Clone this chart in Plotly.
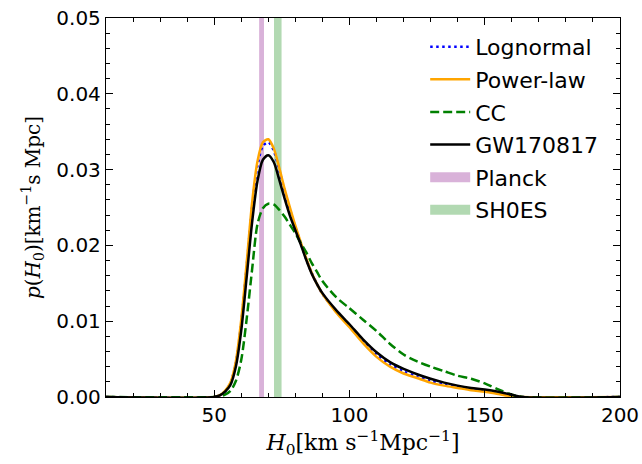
import plotly.graph_objects as go

# ---- data ----
h0 = [10, 50, 52, 54, 56, 58, 60, 62, 64, 66, 68, 70, 72, 74, 76, 78, 80, 82, 84, 86, 88, 90, 95,
      100, 105, 110, 115, 120, 125, 130, 135, 140, 145, 150, 155, 160, 164, 200]

lognormal = [0, 0, 0.0002, 0.0007, 0.0018, 0.0045, 0.0098, 0.0172, 0.0250, 0.0305, 0.0331, 0.0336,
             0.0325, 0.0300, 0.0272, 0.0247, 0.0224, 0.0203, 0.0182, 0.0164, 0.0149, 0.0136, 0.0113,
             0.0094, 0.0073, 0.0056, 0.0043, 0.0034, 0.0027, 0.0021, 0.0017, 0.0013, 0.0011,
             0.0008, 0.0005, 0.0002, 0, 0]

power_law = [0, 0, 0.0002, 0.0008, 0.0019, 0.0047, 0.0102, 0.0177, 0.0256, 0.0311, 0.0336, 0.0340,
             0.0328, 0.0303, 0.0275, 0.0250, 0.0226, 0.0204, 0.0183, 0.0164, 0.0149, 0.0136, 0.0112,
             0.0092, 0.0071, 0.0053, 0.0040, 0.0031, 0.0025, 0.0019, 0.0015, 0.0012, 0.0009,
             0.0007, 0.0004, 0.0001, 0, 0]

cc = [0, 0, 0.0001, 0.0003, 0.0008, 0.0021, 0.0049, 0.0103, 0.0168, 0.0228, 0.0249, 0.0255,
      0.0254, 0.0247, 0.0238, 0.0227, 0.0216, 0.0203, 0.0191, 0.0177, 0.0165, 0.0153, 0.0132,
      0.0117, 0.0102, 0.0087, 0.0070, 0.0056, 0.0047, 0.0040, 0.0034, 0.0028, 0.0024,
      0.0018, 0.0010, 0.0003, 0, 0]

gw170817 = [0, 0, 0.0002, 0.0007, 0.0016, 0.0040, 0.0088, 0.0158, 0.0230, 0.0285, 0.0313, 0.0319,
            0.0310, 0.0287, 0.0262, 0.0239, 0.0220, 0.0201, 0.0181, 0.0163, 0.0149, 0.0137, 0.0115,
            0.0096, 0.0076, 0.0059, 0.0046, 0.0037, 0.0030, 0.0024, 0.0019, 0.0015, 0.0012,
            0.0010, 0.0007, 0.0003, 0, 0]

planck_band = [66.6, 68.4]
shoes_band = [72.1, 74.9]

x_ticks = [50, 100, 150, 200]
y_ticks = [0.00, 0.01, 0.02, 0.03, 0.04, 0.05]

# ---- figure ----
fig = go.Figure()

def band(lo_hi, name, color, rank):
    lo, hi = lo_hi
    fig.add_trace(go.Scatter(
        x=[lo, lo, hi, hi, lo], y=[0, 0.05, 0.05, 0, 0],
        mode="lines", fill="toself", fillcolor=color,
        line=dict(width=0, color=color), showlegend=False,
        legendgroup=name, hoverinfo="skip"))
    # legend entry (a wide swatch like the reference)
    fig.add_trace(go.Scatter(
        x=[None], y=[None], mode="lines", name=name, legendrank=rank, legendgroup=name,
        line=dict(width=18, color=color)))

band(planck_band, "Planck", "rgba(128,0,128,0.3)", 5)
band(shoes_band, "SH0ES", "rgba(0,128,0,0.3)", 6)

def curve(y, name, color, dash, rank):
    fig.add_trace(go.Scatter(
        x=h0, y=y, mode="lines", name=name, legendrank=rank, legendgroup=name,
        line=dict(color=color, width=2.5, dash=dash, shape="spline", smoothing=0.8)))

curve(lognormal, "Lognormal", "blue", "2.5px,3.5px", 1)
curve(power_law, "Power-law", "orange", "solid", 2)
curve(cc, "CC", "green", "9px,4px", 3)
curve(gw170817, "GW170817", "black", "solid", 4)

tickfont = dict(family="DejaVu Sans", size=20, color="black")
axis_common = dict(
    showline=True, linecolor="black", linewidth=1.3, mirror="ticks",
    ticks="inside", ticklen=7, tickwidth=1.2, tickcolor="black",
    showgrid=False, zeroline=False, tickfont=tickfont, automargin=False,
)

fig.update_xaxes(
    range=[10, 200], tickvals=x_ticks, ticktext=[str(v) for v in x_ticks],
    minor=dict(ticks="inside", ticklen=4, tickwidth=1, tickcolor="black", dtick=10, tick0=0),
    title=dict(text="<i>H</i><sub>0</sub>[km s<sup>−1</sup>Mpc<sup>−1</sup>]",
               font=dict(family="DejaVu Serif", size=22, color="black"), standoff=8),
    **axis_common)
fig.update_yaxes(
    range=[0, 0.05], tickvals=y_ticks, ticktext=[f"{v:.2f}" for v in y_ticks],
    minor=dict(ticks="inside", ticklen=4, tickwidth=1, tickcolor="black", dtick=0.002, tick0=0),
    title=dict(text="<i>p</i>(<i>H</i><sub>0</sub>)[km<sup>−1</sup>s Mpc]",
               font=dict(family="DejaVu Serif", size=20, color="black"), standoff=10),
    **axis_common)

fig.update_layout(
    width=642, height=464,
    margin=dict(l=106, r=22, t=18, b=67),
    plot_bgcolor="white", paper_bgcolor="white",
    legend=dict(x=0.621, y=0.979, xanchor="left", yanchor="top",
                font=dict(family="DejaVu Sans", size=22, color="black"),
                bgcolor="rgba(255,255,255,0)", tracegroupgap=1,
                itemwidth=40),
)

fig.write_html("out.html", config={"displayModeBar": False},
               post_script="document.body.style.margin='0';")
